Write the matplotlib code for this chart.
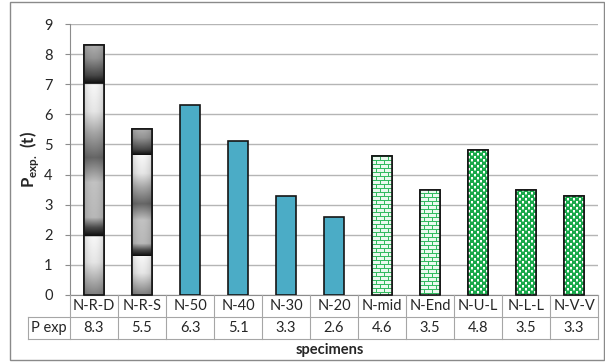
import numpy as np
import matplotlib
matplotlib.use('Agg')
import matplotlib.pyplot as plt
from matplotlib.lines import Line2D
from matplotlib.patches import Rectangle
import matplotlib.transforms as mtransforms

categories = ['N-R-D', 'N-R-S', 'N-50', 'N-40', 'N-30', 'N-20',
              'N-mid', 'N-End', 'N-U-L', 'N-L-L', 'N-V-V']
p_exp = [8.3, 5.5, 6.3, 5.1, 3.3, 2.6, 4.6, 3.5, 4.8, 3.5, 3.3]
fill_styles = ['gradient', 'gradient', 'solid', 'solid', 'solid', 'solid',
               'brick', 'brick', 'dots', 'dots', 'dots']
row_label = 'P exp'
y_ticks = list(range(0, 10))
x_title = 'specimens'

plt.rcParams['font.family'] = ['Lato', 'DejaVu Sans']
plt.rcParams['mathtext.fontset'] = 'custom'
plt.rcParams['mathtext.rm'] = 'Lato'
plt.rcParams['mathtext.bf'] = 'Lato:bold'

W, H = 605, 362
fig = plt.figure(figsize=(W / 100, H / 100), dpi=100)


def fx(x):
    return x / W


def fy(y):
    return 1 - y / H


ax = fig.add_axes([fx(70), fy(295), fx(598) - fx(70), fy(24) - fy(295)])
n = len(categories)
ax.set_xlim(-0.5, n - 0.5)
ax.set_ylim(0, 9)

GRID = '#b5b5b5'
LINE = '#a6a6a6'

ax.set_axisbelow(True)
ax.yaxis.grid(True, color=GRID, lw=1.0)
ax.set_yticks(y_ticks)
ax.tick_params(axis='y', length=3.5, color='#8c8c8c', labelsize=10.5, pad=9,
               labelcolor='#262626')
ax.set_xticks([])
for s in ['top', 'right']:
    ax.spines[s].set_visible(False)
ax.spines['left'].set_color('#8c8c8c')
ax.spines['bottom'].set_color('#8c8c8c')

x = np.arange(n)
bw = 0.41
bars = ax.bar(x, p_exp, width=bw, color='none', edgecolor='#151515',
              linewidth=1.2, zorder=3)

# gradient profile (relative height -> gray level)
tk = [0.0, 0.13, 0.232, 0.236, 0.27, 0.31, 0.45, 0.55, 0.65, 0.735, 0.843,
      0.848, 0.88, 0.95, 1.0]
gk = [0.5, 0.9, 0.97, 0.06, 0.3, 0.72, 0.76, 0.4, 0.65, 0.9, 0.97,
      0.06, 0.28, 0.58, 0.68]


def hex2rgb(h):
    h = h.lstrip('#')
    return np.array([int(h[i:i + 2], 16) / 255 for i in (0, 2, 4)])


def texture(style, hpx, wpx):
    if style == 'gradient':
        t = np.linspace(1, 0, hpx)
        g = np.interp(t, tk, gk)
        u = np.linspace(0, 1, wpx)
        sh = 1 - 0.12 * (2 * u - 1) ** 2
        v = np.clip(g[:, None] * sh[None, :], 0, 1)
        return np.dstack([v, v, v])
    if style == 'brick':
        bg = hex2rgb('#eaf9ef')
        ln = hex2rgb('#33bb60')
        img = np.tile(bg, (hpx, wpx, 1))
        for r in range(hpx):
            if r % 4 == 0:
                img[r, :] = ln
            else:
                off = 0 if (r // 4) % 2 == 0 else 4
                for c in range(wpx):
                    if (c + off) % 8 == 0:
                        img[r, c] = ln
        return img
    if style == 'dots':
        gr = hex2rgb('#18a84a')
        wh = hex2rgb('#ffffff')
        lg = hex2rgb('#7fd69c')
        img = np.tile(gr, (hpx, wpx, 1))
        for r in range(hpx):
            for c in range(wpx):
                a, b = r % 6, c % 6
                if (a < 2 and b < 2) or (3 <= a < 5 and 3 <= b < 5):
                    img[r, c] = wh
                elif (a == 2 and b < 2) or (a == 5 and 3 <= b < 5):
                    img[r, c] = lg
        return img
    return None


for b, style in zip(bars, fill_styles):
    if style == 'solid':
        b.set_facecolor('#4bacc6')
        continue
    x0 = b.get_x()
    x1 = x0 + b.get_width()
    h = b.get_height()
    (px0, py0), (px1, py1) = ax.transData.transform([(x0, 0), (x1, h)])
    px0, py0 = int(np.floor(px0)), int(np.floor(py0))
    px1, py1 = int(np.ceil(px1)), int(np.ceil(py1))
    img = texture(style, py1 - py0, px1 - px0)
    im = fig.figimage(img, xo=px0, yo=py0, origin='upper', zorder=1)
    im.set_clip_path(b)
    fig.add_artist(Rectangle((x0, 0), b.get_width(), h, transform=ax.transData,
                             fill=False, edgecolor='#151515', lw=1.2,
                             zorder=2))

# data table under the axis
trans = mtransforms.blended_transform_factory(ax.transData, fig.transFigure)
ytop, ymid, ybot = fy(295), fy(317), fy(339)
for bnd in np.arange(-0.5, n, 1.0):
    fig.add_artist(Line2D([bnd, bnd], [ytop, ybot], transform=trans,
                          color=LINE, lw=0.8))
pos = ax.get_position()
for yy in (ymid, ybot):
    fig.add_artist(Line2D([fx(28), pos.x1], [yy, yy],
                          transform=fig.transFigure, color=LINE, lw=0.8))
fig.add_artist(Line2D([fx(28), fx(28)], [ymid, ybot],
                      transform=fig.transFigure, color=LINE, lw=0.8))

for i, (c, v) in enumerate(zip(categories, p_exp)):
    fig.text(i, (ytop + ymid) / 2, c, transform=trans, ha='center',
             va='center', fontsize=10.5, color='#262626')
    fig.text(i, (ymid + ybot) / 2, f'{v:.1f}', transform=trans,
             ha='center', va='center', fontsize=10.5, color='#262626')
fig.text(fx(31), (ymid + ybot) / 2, row_label, ha='left', va='center',
         fontsize=10.5, color='#262626')

fig.text(fx(330), fy(350), x_title, ha='center', va='center', fontsize=10.5,
         fontweight='bold', color='#262626')

fig.text(fx(30), (pos.y0 + pos.y1) / 2,
         r'$\mathbf{P}_{\mathbf{exp.}}\ \mathbf{(t)}$', rotation=90,
         ha='center', va='center', fontsize=12, color='#262626')

fig.add_artist(Rectangle((fx(10), fy(360)), fx(604) - fx(10), fy(2) - fy(360),
                         transform=fig.transFigure, fill=False,
                         edgecolor='#8a8a8a', lw=1.0))

fig.savefig('out.png', dpi=100)
